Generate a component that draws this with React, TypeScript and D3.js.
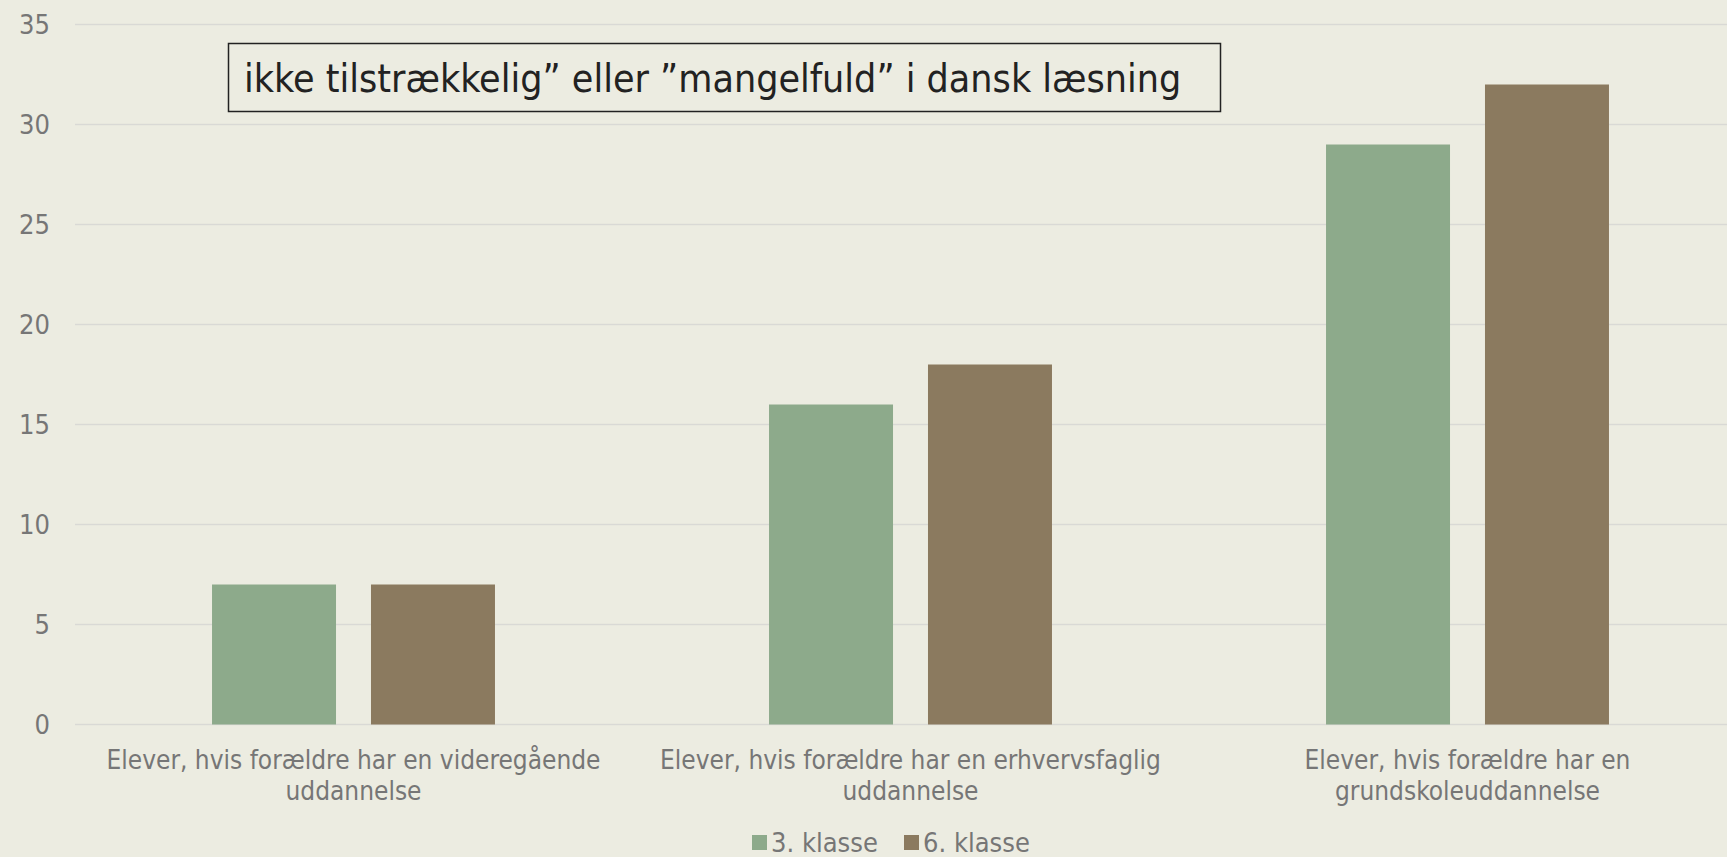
import React from 'react';
import * as d3 from 'd3';

const categories = [
  ['Elever, hvis forældre har en videregående', 'uddannelse'],
  ['Elever, hvis forældre har en erhvervsfaglig', 'uddannelse'],
  ['Elever, hvis forældre har en', 'grundskoleuddannelse'],
];
const seriesNames = ['3. klasse', '6. klasse'];
const seriesColors = ['#8DAA8B', '#8B7A5F'];
const klasse3 = [7, 16, 29];
const klasse6 = [7, 18, 32];
const yTicks = [0, 5, 10, 15, 20, 25, 30, 35];
const title = 'ikke tilstrækkelig” eller ”mangelfuld” i dansk læsning';

const W = 1727;
const H = 857;
const BG = '#ECECE1';
const FONT = '"Liberation Sans Narrow", "DejaVu Sans Condensed", "Liberation Sans", sans-serif';

export default function App() {
  const x0 = d3.scaleBand<number>()
    .domain(d3.range(categories.length))
    .range([75, 1746]);
  const x1 = d3.scaleBand<number>()
    .domain(d3.range(seriesNames.length))
    .range([0, x0.bandwidth()])
    .paddingInner(0.22)
    .paddingOuter(0.862);
  const y = d3.scaleLinear().domain([0, 35]).range([724.5, 24.5]);
  const series = [klasse3, klasse6];

  return (
    <svg width={W} height={H} style={{ position: 'absolute', left: 0, top: 0, background: BG }}>
      <rect width={W} height={H} fill={BG} />
      {/* gridlines + y labels */}
      {yTicks.map((t) => (
        <g key={t}>
          <line x1={75} x2={W} y1={y(t)} y2={y(t)} stroke="#D9D9D5" strokeWidth={1.5} />
          <text x={50} y={y(t)} dy="0.35em" textAnchor="end" fontFamily={FONT} fontSize={27} fill="#767676">{t}</text>
        </g>
      ))}
      {/* bars */}
      {series.map((vals, s) => vals.map((v, i) => (
        <rect key={`${s}-${i}`}
          x={x0(i)! + x1(s)!}
          y={y(v)}
          width={x1.bandwidth()}
          height={y(0) - y(v)}
          fill={seriesColors[s]} />
      )))}
      {/* category labels */}
      {categories.map((lines, i) => (
        <text key={i} x={x0(i)! + x0.bandwidth() / 2} y={769} textAnchor="middle" fontFamily={FONT} fontSize={26} fill="#767676">
          {lines.map((l, j) => (
            <tspan key={j} x={x0(i)! + x0.bandwidth() / 2} dy={j === 0 ? 0 : 31}>{l}</tspan>
          ))}
        </text>
      ))}
      {/* title box */}
      <rect x={228.5} y={43.5} width={992} height={68} fill={BG} stroke="#222" strokeWidth={1.5} />
      <text x={244} y={92} fontFamily={FONT} fontSize={39} fill="#222">{title}</text>
      {/* legend */}
      {seriesNames.map((n, s) => {
        const lx = s === 0 ? 752 : 904;
        return (
          <g key={n}>
            <rect x={lx} y={835} width={15} height={15} fill={seriesColors[s]} />
            <text x={lx + 19} y={843} dy="0.35em" fontFamily={FONT} fontSize={27} fill="#767676">{n}</text>
          </g>
        );
      })}
    </svg>
  );
}
